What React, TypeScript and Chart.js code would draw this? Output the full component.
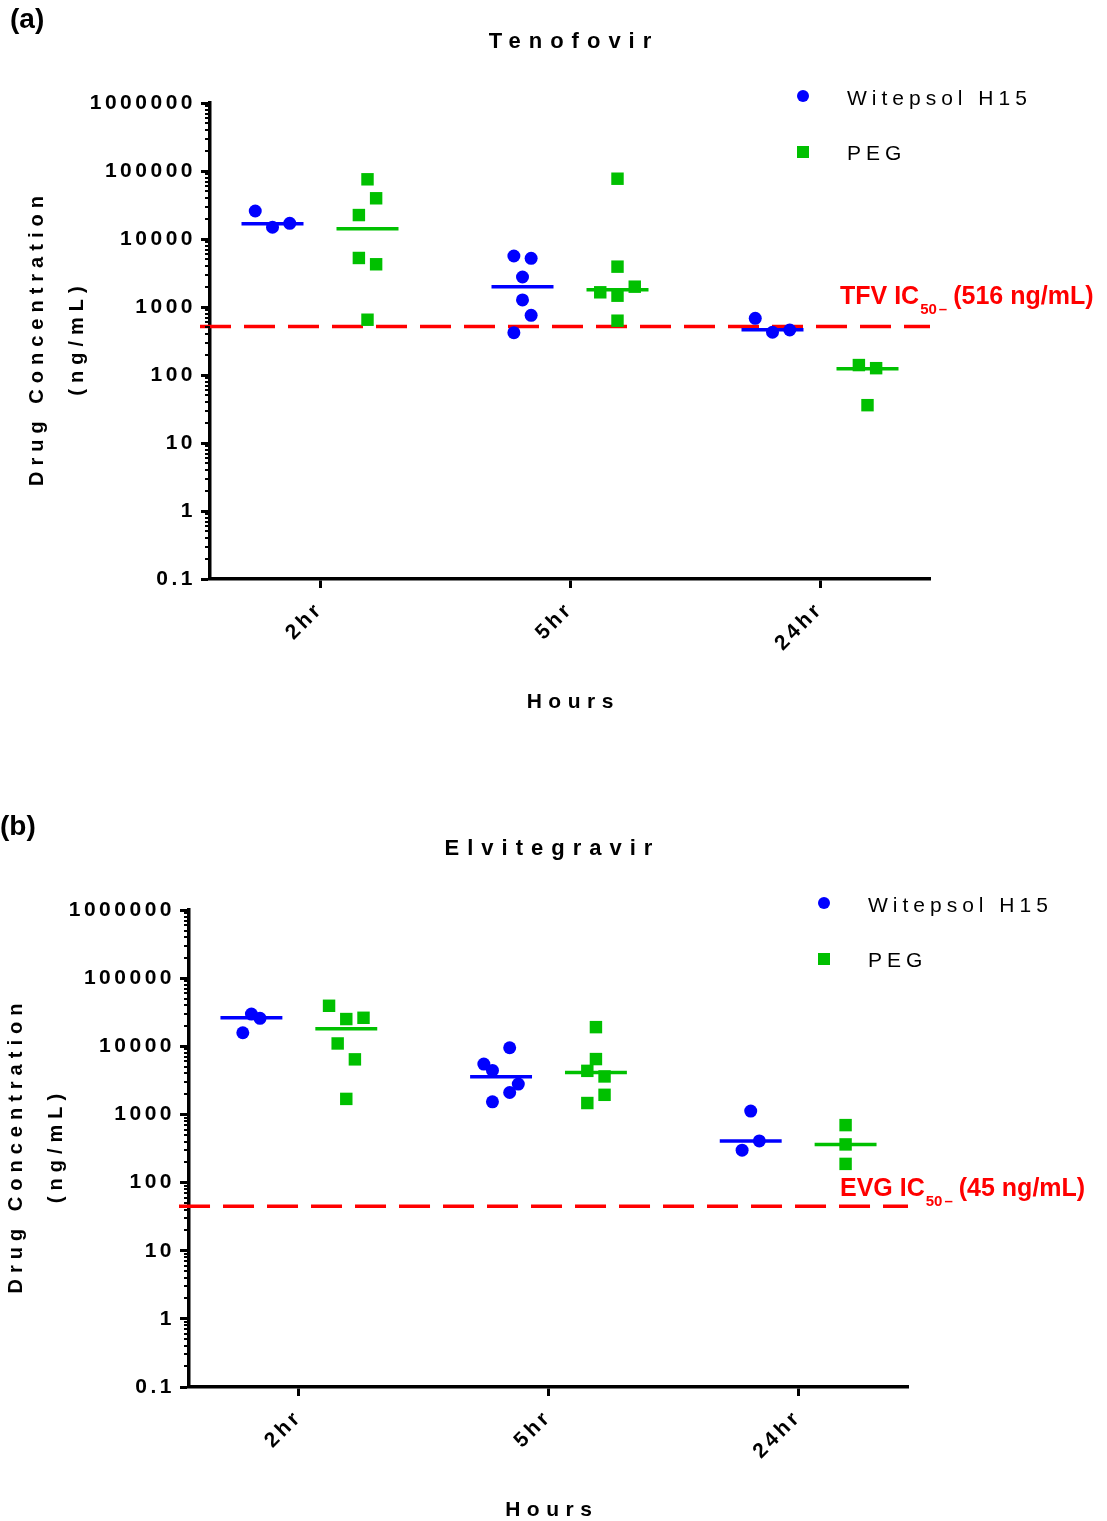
import React, { useEffect, useRef } from 'react';
import { Chart, registerables } from 'chart.js';

Chart.register(...registerables);

// ---------------- data ----------------
const categories = ['2hr', '5hr', '24hr'];
const yTickValues = [0.1, 1, 10, 100, 1000, 10000, 100000, 1000000];
const yTickLabels = ['0.1', '1', '10', '100', '1000', '10000', '100000', '1000000'];
const seriesNames = ['Witepsol H15', 'PEG'];

// (a) Tenofovir (ng/mL), one inner list per time point
const tfvWitepsol = [[25800, 14900, 17000], [5620, 5200, 2760, 1270, 755, 419], [682, 425, 459]];
const tfvWitepsolMedian = [16800, 1990, 463];
const tfvPeg = [[75500, 39700, 22500, 5260, 4250, 650], [77000, 3920, 1990, 1645, 1466, 629], [140, 126, 36]];
const tfvPegMedian = [14200, 1800, 124];
const tfvIC50 = 516;

// (b) Elvitegravir (ng/mL)
const evgWitepsol = [[29700, 25700, 15800], [9510, 5480, 4430, 2790, 2100, 1530], [1120, 409, 299]];
const evgWitepsolMedian = [26200, 3560, 409];
const evgPeg = [[39300, 25100, 26200, 11000, 6430, 1690], [19100, 6490, 4360, 3610, 1940, 1470], [697, 363, 188]];
const evgPegMedian = [18100, 4140, 363];
const evgIC50 = 45;

// column-scatter slot of each dot (spread of overlapping dots)
const tfvWitepsolSlots = [[-2, 0, 2], [-1, 1, 0, 0, 1, -1], [-2, 0, 2]];
const tfvPegSlots = [[0, 1, -1, -1, 1, 0], [0, 0, 2, -2, 0, 0], [-1, 1, 0]];
const evgWitepsolSlots = [[0, 1, -1], [1, -2, -1, 2, 1, -1], [0, 1, -1]];
const evgPegSlots = [[-2, 0, 2, -1, 1, 0], [0, 0, -1, 1, 1, -1], [0, 0, 0]];

// ---------------- styling / layout ----------------
const BLUE = '#0000ff';
const GREEN = '#00c000';
const RED = '#ff0000';
const FONT = "'Liberation Sans', Arial, sans-serif";
const GROUP_OFFSET = 0.19;
const SLOT_UNIT = 0.0345;
const MEDIAN_HALF = 0.124;
const X_MIN = -0.44;
const X_MAX = 2.44;
const AREA_TOP = 103;
const CANVAS_W = 1107;

type Panel = {
  tag: string; tagX: number; title: string;
  icName: string; icValue: string; ic50: number;
  wit: number[][]; witSlots: number[][]; witMed: number[];
  peg: number[][]; pegSlots: number[][]; pegMed: number[];
  height: number; left: number; right: number; bottom: number;
  legendX: number; labelX: number; labelDy: number;
};

const panelA: Panel = {
  tag: '(a)', tagX: 10, title: 'Tenofovir', icName: 'TFV IC', icValue: '(516 ng/mL)', ic50: tfvIC50,
  wit: tfvWitepsol, witSlots: tfvWitepsolSlots, witMed: tfvWitepsolMedian,
  peg: tfvPeg, pegSlots: tfvPegSlots, pegMed: tfvPegMedian,
  height: 807, left: 210, right: 930, bottom: 579, legendX: 803, labelX: 840, labelDy: -23,
};
const panelB: Panel = {
  tag: '(b)', tagX: 0, title: 'Elvitegravir', icName: 'EVG IC', icValue: '(45 ng/mL)', ic50: evgIC50,
  wit: evgWitepsol, witSlots: evgWitepsolSlots, witMed: evgWitepsolMedian,
  peg: evgPeg, pegSlots: evgPegSlots, pegMed: evgPegMedian,
  height: 714, left: 189, right: 908, bottom: 580, legendX: 824, labelX: 840, labelDy: -10,
};

function pointData(vals: number[][], slots: number[][], sign: number) {
  return vals.flatMap((arr, ci) =>
    arr.map((v, k) => ({ x: ci + sign * GROUP_OFFSET + slots[ci][k] * SLOT_UNIT, y: v }))
  );
}

function medianSets(meds: number[], sign: number, color: string) {
  return meds.map((m, ci) => ({
    label: 'median',
    data: [
      { x: ci + sign * GROUP_OFFSET - MEDIAN_HALF, y: m },
      { x: ci + sign * GROUP_OFFSET + MEDIAN_HALF, y: m },
    ],
    showLine: true,
    borderColor: color,
    backgroundColor: color,
    borderWidth: 3.5,
    pointRadius: 0,
    order: 1,
  }));
}

function spaced(
  ctx: CanvasRenderingContext2D, text: string, x: number, y: number,
  font: string, spacing: number, align: CanvasTextAlign, color: string, rotate = 0
) {
  ctx.save();
  ctx.font = font;
  (ctx as any).letterSpacing = spacing + 'px';
  ctx.fillStyle = color;
  ctx.textBaseline = 'middle';
  ctx.textAlign = align;
  ctx.translate(x, y);
  if (rotate) ctx.rotate(rotate);
  const dx = align === 'center' ? spacing / 2 : align === 'right' ? spacing : 0;
  ctx.fillText(text, dx, 0);
  ctx.restore();
}

function makeChart(canvas: HTMLCanvasElement, p: Panel) {
  const setSpacing = (chart: any) => { (chart.ctx as any).letterSpacing = '3.5px'; };
  const decor = {
    id: 'decor',
    beforeUpdate: setSpacing,
    beforeLayout: setSpacing,
    beforeDraw: setSpacing,
    afterDraw(chart: any) {
      const ctx: CanvasRenderingContext2D = chart.ctx;
      const ca = chart.chartArea;
      const ys = chart.scales.y;
      // minor log ticks
      ctx.save();
      ctx.strokeStyle = '#000';
      ctx.lineWidth = 2;
      for (let i = 0; i < yTickValues.length - 1; i++) {
        for (let k = 2; k <= 9; k++) {
          const v = yTickValues[i] * k;
          const py = Math.round(ys.getPixelForValue(v));
          ctx.beginPath();
          ctx.moveTo(ca.left - 5, py);
          ctx.lineTo(ca.left, py);
          ctx.stroke();
        }
      }
      ctx.restore();

      const cx = (ca.left + ca.right) / 2;
      // panel tag
      spaced(ctx, p.tag, p.tagX, 20, `bold 28px ${FONT}`, 0, 'left', '#000');
      // title
      spaced(ctx, p.title, cx, 42, `bold 22px ${FONT}`, 8, 'center', '#000');
      // axis titles
      const cy = (ca.top + ca.bottom) / 2;
      spaced(ctx, 'Drug Concentration', ca.left - 173, cy, `bold 20px ${FONT}`, 6, 'center', '#000', -Math.PI / 2);
      spaced(ctx, '(ng/mL)', ca.left - 133, cy, `bold 20px ${FONT}`, 6, 'center', '#000', -Math.PI / 2);
      spaced(ctx, 'Hours', cx, ca.bottom + 123, `bold 21px ${FONT}`, 6.5, 'center', '#000');

      // legend
      const lx = p.legendX;
      ctx.save();
      ctx.fillStyle = BLUE;
      ctx.beginPath();
      ctx.arc(lx, 96, 6, 0, Math.PI * 2);
      ctx.fill();
      ctx.fillStyle = GREEN;
      ctx.fillRect(lx - 6, 146, 12, 12);
      ctx.restore();
      spaced(ctx, seriesNames[0], lx + 44, 99, `21px ${FONT}`, 5, 'left', '#000');
      spaced(ctx, seriesNames[1], lx + 44, 154, `21px ${FONT}`, 5, 'left', '#000');

      // IC50 label
      const base = ys.getPixelForValue(p.ic50) + p.labelDy;
      ctx.save();
      (ctx as any).letterSpacing = '0px';
      ctx.fillStyle = RED;
      ctx.textBaseline = 'alphabetic';
      ctx.textAlign = 'left';
      let x = p.labelX;
      ctx.font = `bold 25px ${FONT}`;
      ctx.fillText(p.icName, x, base);
      x += ctx.measureText(p.icName).width + 1;
      ctx.font = `bold 15px ${FONT}`;
      ctx.fillText('50', x, base + 10);
      x += ctx.measureText('50').width + 2;
      ctx.fillText('\u2013', x, base + 10);
      x += ctx.measureText('\u2013').width + 6;
      ctx.font = `bold 25px ${FONT}`;
      ctx.fillText(p.icValue, x, base);
      ctx.restore();
    },
  };

  const datasets: any[] = [
    {
      label: seriesNames[0],
      data: pointData(p.wit, p.witSlots, -1),
      pointStyle: 'circle',
      pointRadius: 6.5,
      pointBorderWidth: 0,
      backgroundColor: BLUE,
      pointBackgroundColor: BLUE,
      borderColor: BLUE,
      order: 0,
    },
    {
      label: seriesNames[1],
      data: pointData(p.peg, p.pegSlots, 1),
      pointStyle: 'rect',
      pointRadius: 8.8,
      pointBorderWidth: 0,
      backgroundColor: GREEN,
      pointBackgroundColor: GREEN,
      borderColor: GREEN,
      order: 0,
    },
    ...medianSets(p.witMed, -1, BLUE),
    ...medianSets(p.pegMed, 1, GREEN),
    {
      label: 'IC50',
      data: [
        { x: X_MIN - 0.04, y: p.ic50 },
        { x: X_MAX, y: p.ic50 },
      ],
      showLine: true,
      borderColor: RED,
      backgroundColor: RED,
      borderWidth: 3.5,
      borderDash: [31, 13],
      pointRadius: 0,
      clip: false,
      order: 2,
    },
  ];

  return new Chart(canvas, {
    type: 'scatter',
    data: { datasets },
    plugins: [decor],
    options: {
      responsive: false,
      animation: false,
      events: [],
      devicePixelRatio: 1,
      layout: { padding: { top: AREA_TOP, left: 0, right: CANVAS_W - p.right, bottom: 0 } },
      plugins: {
        legend: { display: false },
        title: { display: false },
        tooltip: { enabled: false },
      },
      scales: {
        x: {
          type: 'linear',
          min: X_MIN,
          max: X_MAX,
          afterBuildTicks: (s: any) => { s.ticks = categories.map((_, i) => ({ value: i })); },
          afterFit: (s: any) => { s.height = p.height - p.bottom; },
          ticks: {
            autoSkip: false,
            minRotation: 45,
            maxRotation: 45,
            padding: 9,
            color: '#000',
            font: { family: FONT, size: 21, weight: 'bold' },
            callback: (v: any) => categories[Math.round(Number(v))] ?? '',
          },
          grid: { display: true, drawOnChartArea: false, drawTicks: true, tickLength: 9, tickWidth: 3, tickColor: '#000' },
          border: { display: true, width: 3.5, color: '#000' },
        },
        y: {
          type: 'logarithmic',
          min: 0.1,
          max: 1000000,
          afterBuildTicks: (s: any) => { s.ticks = yTickValues.map((v) => ({ value: v, major: true })); },
          afterFit: (s: any) => { s.width = p.left; },
          ticks: {
            autoSkip: false,
            padding: 5,
            color: '#000',
            font: { family: FONT, size: 21, weight: 'bold' },
            callback: (v: any) => {
              const i = yTickValues.indexOf(Number(v));
              return i >= 0 ? yTickLabels[i] : '';
            },
          },
          grid: { display: true, drawOnChartArea: false, drawTicks: true, tickLength: 9, tickWidth: 3, tickColor: '#000' },
          border: { display: true, width: 3.5, color: '#000' },
        },
      },
    } as any,
  });
}

export default function App() {
  const topRef = useRef<HTMLCanvasElement>(null);
  const botRef = useRef<HTMLCanvasElement>(null);

  useEffect(() => {
    document.body.style.margin = '0';
    const charts = [makeChart(topRef.current!, panelA), makeChart(botRef.current!, panelB)];
    return () => charts.forEach((c) => c.destroy());
  }, []);

  return (
    <div style={{ width: CANVAS_W, height: 1521, background: '#fff' }}>
      <canvas ref={topRef} width={CANVAS_W} height={panelA.height} style={{ display: 'block', width: CANVAS_W, height: panelA.height }} />
      <canvas ref={botRef} width={CANVAS_W} height={panelB.height} style={{ display: 'block', width: CANVAS_W, height: panelB.height }} />
    </div>
  );
}
